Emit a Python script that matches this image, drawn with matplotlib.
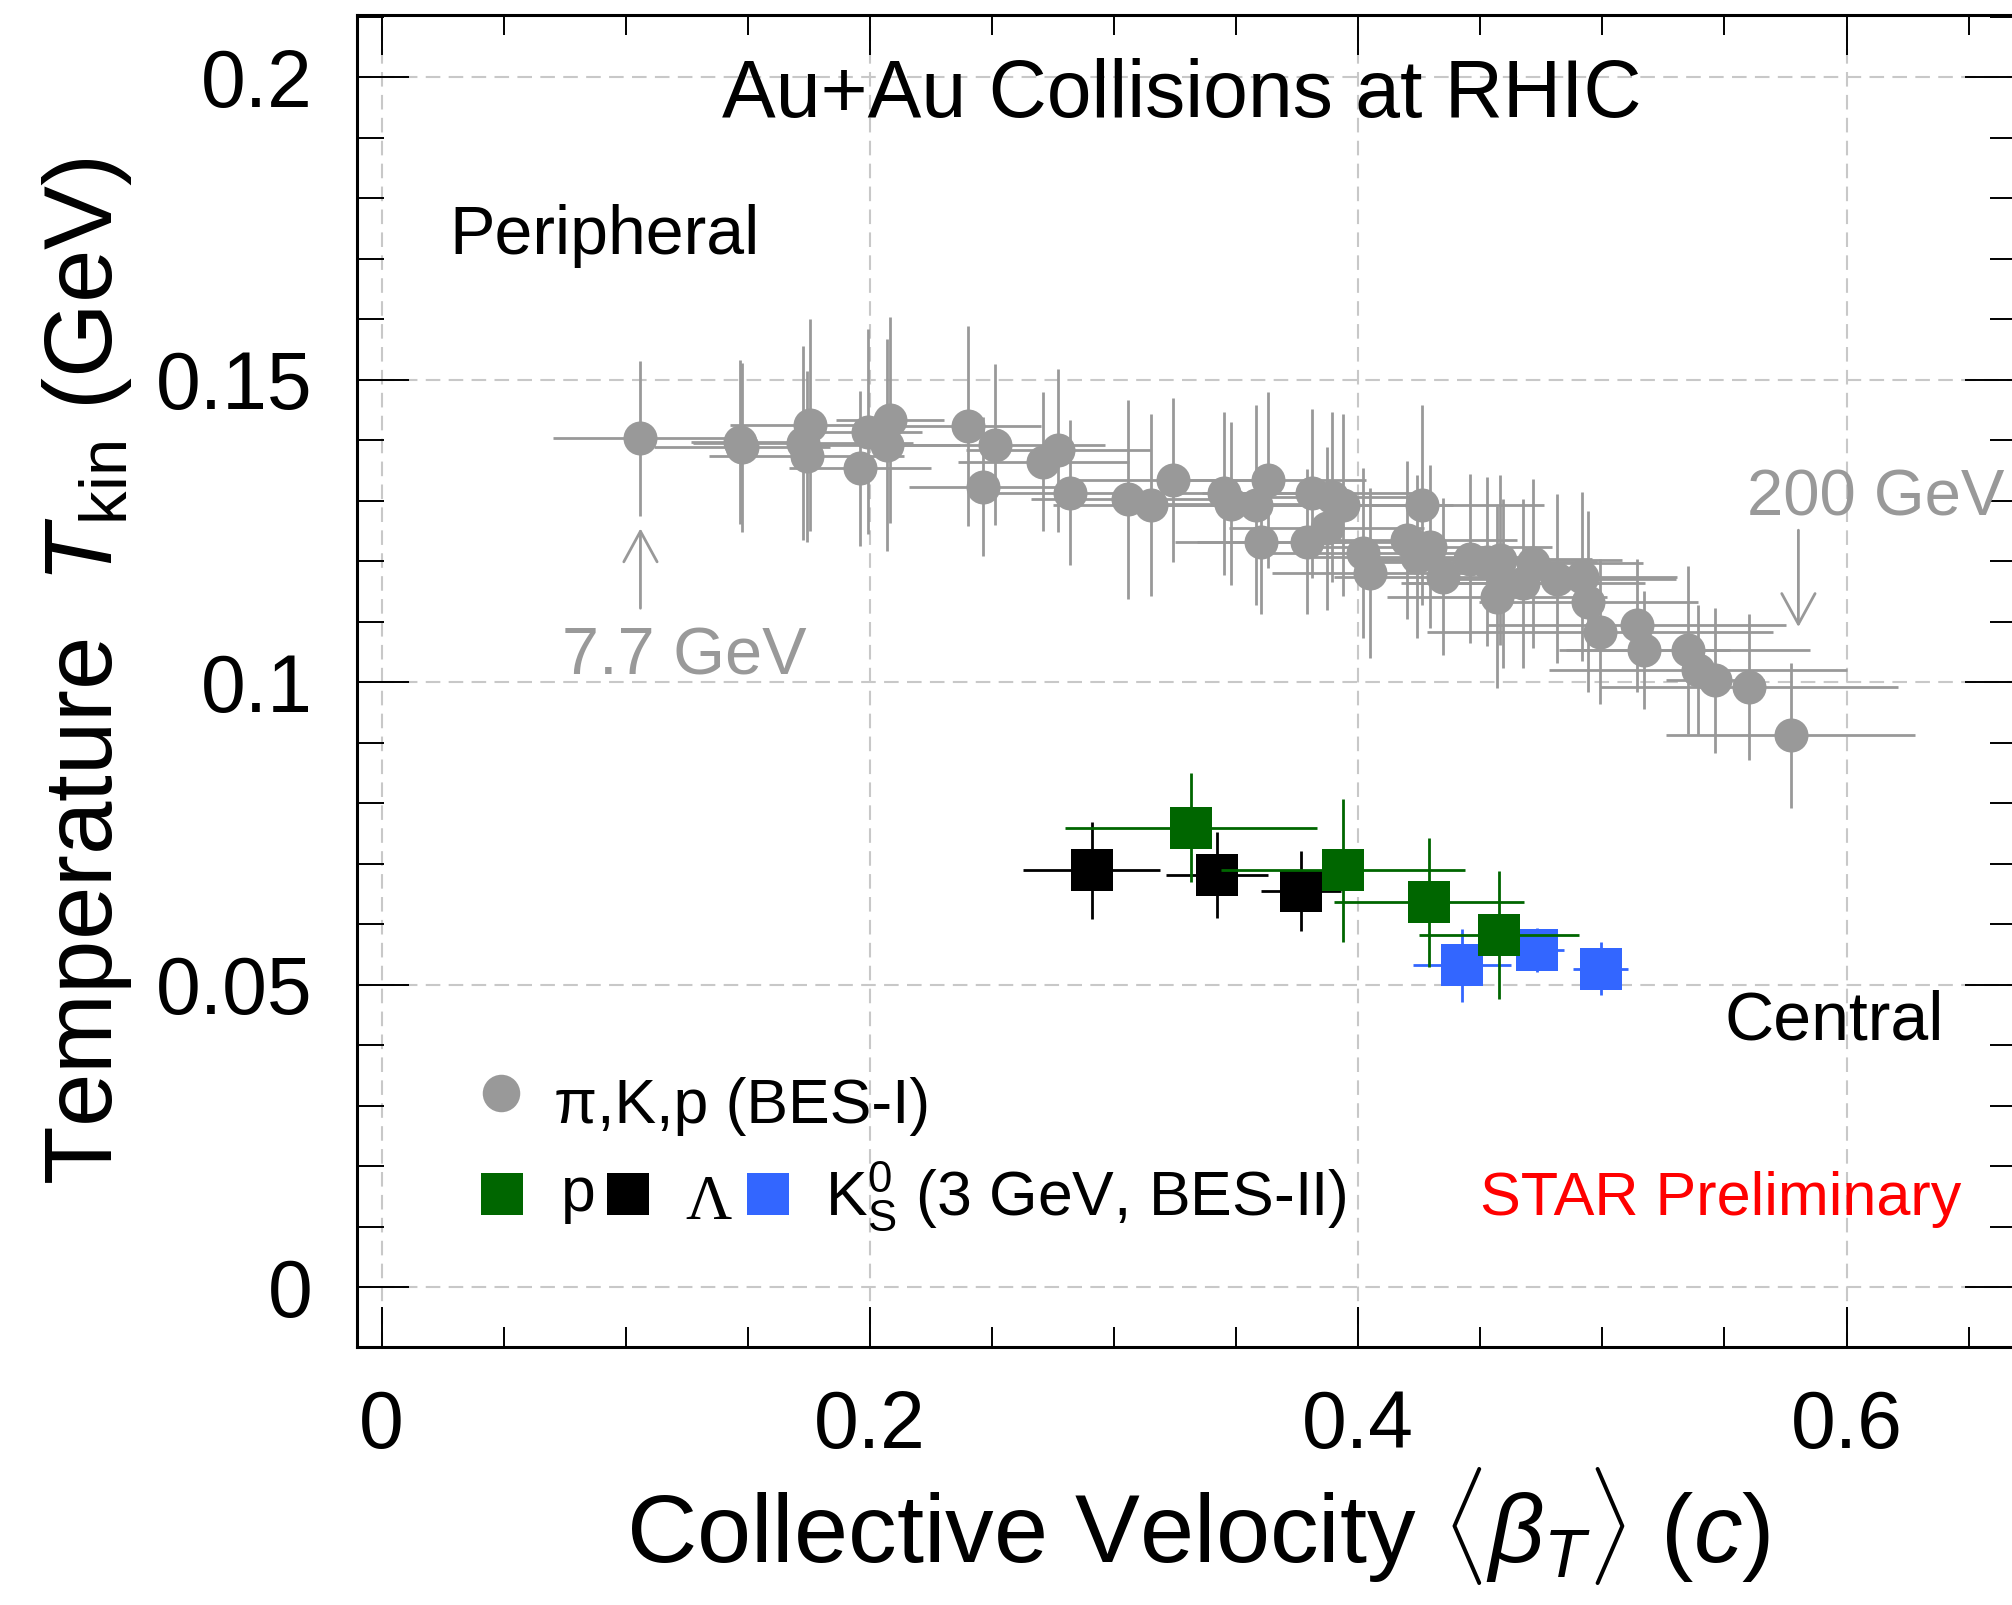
import matplotlib
matplotlib.use("Agg")
import matplotlib.pyplot as plt
from matplotlib.ticker import MultipleLocator

plt.rcParams['font.family'] = ['Liberation Sans', 'DejaVu Sans']
plt.rcParams['mathtext.fontset'] = 'custom'
plt.rcParams['mathtext.rm'] = 'Liberation Sans'
plt.rcParams['mathtext.it'] = 'Liberation Sans:italic'
plt.rcParams['mathtext.bf'] = 'Liberation Sans:bold'
plt.rcParams['mathtext.sf'] = 'Liberation Sans'

# BES-I pi,K,p blast-wave fits (7.7 - 200 GeV)
beta_bes1 = [0.106, 0.1468, 0.1475, 0.1755, 0.1727, 0.1741, 0.1959, 0.1993, 0.2082,
             0.2069, 0.2400, 0.2512, 0.2462, 0.2710, 0.2772, 0.2820, 0.3058, 0.3151,
             0.3240, 0.3452, 0.3479, 0.3580, 0.3632, 0.3601, 0.3810, 0.3891, 0.3939,
             0.3789, 0.3871, 0.4021, 0.4048, 0.4260, 0.4199, 0.4294, 0.4240, 0.4349,
             0.4457, 0.4526, 0.4581, 0.4567, 0.4594, 0.4676, 0.4717, 0.4813, 0.4915,
             0.4943, 0.4990, 0.5141, 0.5171, 0.5352, 0.5393, 0.5461, 0.5601, 0.5771]
tkin_bes1 = [0.1403, 0.1397, 0.1388, 0.1425, 0.1395, 0.1373, 0.1353, 0.1414, 0.1433,
             0.1392, 0.1423, 0.1392, 0.1323, 0.1364, 0.1383, 0.1313, 0.1302, 0.1293,
             0.1334, 0.1312, 0.1295, 0.1293, 0.1334, 0.1232, 0.1312, 0.1306, 0.1293,
             0.1232, 0.1254, 0.1213, 0.1180, 0.1293, 0.1235, 0.1224, 0.1207, 0.1174,
             0.1204, 0.1199, 0.1202, 0.1141, 0.1163, 0.1163, 0.1196, 0.1171, 0.1174,
             0.1133, 0.1083, 0.1094, 0.1053, 0.1053, 0.1020, 0.1003, 0.0992, 0.0912]
beta_err_bes1 = [0.036, 0.020, 0.036, 0.033, 0.045, 0.040, 0.029, 0.022, 0.022,
                 0.030, 0.030, 0.045, 0.030, 0.035, 0.038, 0.035, 0.040, 0.040,
                 0.045, 0.045, 0.040, 0.050, 0.040, 0.035, 0.045, 0.040, 0.045,
                 0.045, 0.040, 0.045, 0.040, 0.050, 0.045, 0.050, 0.045, 0.045,
                 0.050, 0.045, 0.050, 0.045, 0.040, 0.050, 0.045, 0.049, 0.039,
                 0.045, 0.071, 0.061, 0.035, 0.050, 0.061, 0.020, 0.061, 0.051]
tkin_err_bes1 = [0.0128, 0.0135, 0.0140, 0.0175, 0.0160, 0.0141, 0.0128, 0.0170, 0.0170,
                 0.0175, 0.0165, 0.0133, 0.0115, 0.0115, 0.0135, 0.0120, 0.0165, 0.0150,
                 0.0135, 0.0135, 0.0135, 0.0165, 0.0145, 0.0120, 0.0140, 0.0140, 0.0150,
                 0.0120, 0.0135, 0.0140, 0.0140, 0.0165, 0.0130, 0.0135, 0.0135, 0.0130,
                 0.0140, 0.0140, 0.0140, 0.0150, 0.0140, 0.0140, 0.0140, 0.0140, 0.0140,
                 0.0150, 0.0120, 0.0110, 0.0098, 0.0139, 0.0108, 0.0120, 0.0120, 0.0120]

# 3 GeV BES-II
beta_p = [0.3316, 0.3938, 0.4290, 0.4576]
tkin_p = [0.0759, 0.0689, 0.0636, 0.0582]
beta_err_p = [0.0517, 0.0500, 0.0390, 0.0327]
tkin_err_p = [0.0090, 0.0118, 0.0107, 0.0106]

beta_lam = [0.2908, 0.3422, 0.3766]
tkin_lam = [0.0689, 0.0681, 0.0655]
beta_err_lam = [0.0280, 0.0210, 0.0165]
tkin_err_lam = [0.0080, 0.0071, 0.0066]

beta_k0s = [0.4425, 0.4732, 0.4993]
tkin_k0s = [0.0532, 0.0557, 0.0526]
beta_err_k0s = [0.0200, 0.0110, 0.0113]
tkin_err_k0s = [0.0060, 0.0036, 0.0044]

GRAY = '#999999'
GREEN = '#006600'
BLUE = '#3366ff'

fig = plt.figure(figsize=(20.12, 16.05), dpi=100)
ax = fig.add_axes([357 / 2012, 258 / 1605, (2017.4 - 357) / 2012, (1347 - 15) / 1605])
ax.set_xlim(-0.0101, 0.670)
ax.set_ylim(-0.0099, 0.21025)

ax.grid(True, which='major', color='#c8c8c8', linestyle=(0, (7, 4)), linewidth=1.5)
ax.set_axisbelow(True)

ax.errorbar(beta_bes1, tkin_bes1, xerr=beta_err_bes1, yerr=tkin_err_bes1, fmt='o',
            color=GRAY, ms=24.5, mew=0, elinewidth=2, capsize=6, capthick=2.2, zorder=3)
ax.errorbar(beta_lam, tkin_lam, xerr=beta_err_lam, yerr=tkin_err_lam, fmt='s',
            color='black', ms=30, mew=0, elinewidth=2, capsize=6.5, capthick=2.5, zorder=4)
ax.errorbar(beta_k0s, tkin_k0s, xerr=beta_err_k0s, yerr=tkin_err_k0s, fmt='s',
            color=BLUE, ms=30, mew=0, elinewidth=2, capsize=6.5, capthick=2.5, zorder=5)
ax.errorbar(beta_p, tkin_p, xerr=beta_err_p, yerr=tkin_err_p, fmt='s',
            color=GREEN, ms=30, mew=0, elinewidth=2, capsize=6.5, capthick=2.5, zorder=6)

# ticks
ax.xaxis.set_minor_locator(MultipleLocator(0.05))
ax.yaxis.set_minor_locator(MultipleLocator(0.01))
ax.set_xticks([0, 0.2, 0.4, 0.6])
ax.set_xticklabels(['0', '0.2', '0.4', '0.6'])
ax.set_yticks([0, 0.05, 0.1, 0.15, 0.2])
ax.set_yticklabels(['0', '0.05', '0.1', '0.15', '0.2'])
ax.tick_params(axis='x', which='major', direction='in', top=True, length=29, width=1.4,
               labelsize=58, pad=30)
ax.tick_params(axis='x', which='minor', direction='in', top=True, length=14.5, width=1.4)
ax.tick_params(axis='y', which='major', direction='in', right=True, length=37.5, width=1.4,
               labelsize=58, pad=32)
ax.tick_params(axis='y', which='minor', direction='in', right=True, length=19.5, width=1.4)
for s in ax.spines.values():
    s.set_linewidth(2.2)

# axis titles
fig.text(0.5955, 0.0268, r'Collective Velocity $\langle\beta_{T}\rangle$ ($c$)',
         fontsize=70, ha='center', va='baseline')
fig.text(0.0555, 0.582, r'Temperature  $T_{\mathregular{kin}}$ (GeV)', fontsize=69,
         rotation=90, rotation_mode='anchor', ha='center', va='baseline')

# annotations
ax.text(0.3279, 0.1934, 'Au+Au Collisions at RHIC', fontsize=58, ha='center', va='baseline')
ax.text(0.0276, 0.1707, 'Peripheral', fontsize=49, va='baseline')
ax.text(0.5501, 0.0409, 'Central', fontsize=49, va='baseline')
ax.text(0.0738, 0.1012, '7.7 GeV', fontsize=48, color=GRAY, va='baseline')
ax.text(0.5591, 0.1276, '200 GeV', fontsize=47, color=GRAY, va='baseline')
arrow = dict(arrowstyle='->,head_length=1.1,head_width=0.6', color=GRAY, lw=2,
             mutation_scale=20, shrinkA=0, shrinkB=0)
ax.annotate('', xy=(0.106, 0.1254), xytext=(0.106, 0.1122), arrowprops=arrow)
ax.annotate('', xy=(0.5803, 0.1091), xytext=(0.5803, 0.1251), arrowprops=arrow)

# legend drawn by hand
ax.plot([0.0487], [0.0320], 'o', color=GRAY, ms=27, mew=0, clip_on=False)
ax.text(0.0706, 0.0271, u'\u03c0,K,p (BES-I)', fontsize=45, va='baseline')
ax.plot([0.0492], [0.01537], 's', color=GREEN, ms=30, mew=0)
ax.text(0.0734, 0.0125, 'p', fontsize=45, va='baseline')
ax.plot([0.1009], [0.01537], 's', color='black', ms=30, mew=0)
ax.text(0.1243, 0.0112, u'\u039b', fontsize=46, family='Liberation Serif', va='baseline')
ax.plot([0.1583], [0.01537], 's', color=BLUE, ms=30, mew=0)
ax.text(0.1816, 0.0119, r'K$_\mathregular{S}^\mathregular{0}$ (3 GeV, BES-II)', fontsize=45,
        va='baseline')
ax.text(0.4499, 0.0119, 'STAR Preliminary', fontsize=44, color='red', va='baseline')

fig.savefig('out.png', dpi=100)
plt.close(fig)
